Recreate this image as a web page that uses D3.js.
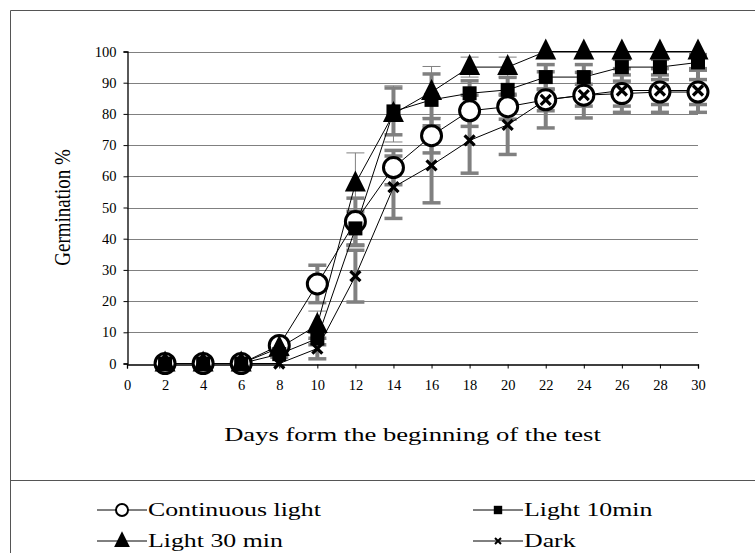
<!DOCTYPE html>
<html>
<head>
<meta charset="utf-8">
<script src="https://cdn.jsdelivr.net/npm/d3@7"></script>
<style>
  html, body { margin: 0; padding: 0; background: #fff; }
  svg { display: block; font-family: "Liberation Serif", "Times New Roman", serif; }
</style>
</head>
<body>
<svg id="chart" width="755" height="553"></svg>
<script>
// ---- data ----
const days = [2, 4, 6, 8, 10, 12, 14, 16, 18, 20, 22, 24, 26, 28, 30];
const continuousLight = [0, 0, 0, 5.8, 25.5, 45.5, 62.8, 73, 81, 82.3, 84.5, 86, 86.5, 87, 87];
const light10min      = [0, 0, 0, 3, 8, 43.3, 80.8, 84.5, 86.6, 87.7, 91.8, 91.8, 95, 95, 96.5];
const light30min      = [0, 0, 0, 5, 12.3, 57.7, 80, 87, 95, 95, 100, 100, 100, 100, 100];
const dark            = [0, 0, 0, 0, 4.8, 28, 56.5, 63.5, 71.5, 76.5, 84.5, 86, 87.5, 87.5, 87.5];
const continuousErr = [0, 0, 0, 1.5, 6, 7.5, 5.5, 5.5, 5, 4, 3.5, 3.5, 4, 4, 4];
const light10Err    = [0, 0, 0, 1, 2, 5.5, 7.5, 8.3, 4, 4, 4, 4, 2.5, 2.5, 2.5];
const light30Err    = [0, 0, 0, 1, 4.5, 9.8, 9, 8.2, 3.2, 3.2, 0, 0, 0, 0, 0];
const darkErr       = [0, 0, 0, 0, 3.3, 8.3, 10, 12, 10.5, 9.5, 9, 7.3, 7, 7, 7];
const xTicks = d3.range(0, 31, 2);
const yTicks = d3.range(0, 101, 10);
const seriesNames = ["Continuous light", "Light 10min", "Light 30 min", "Dark"];

const series = [
  { name: seriesNames[0], values: continuousLight, err: continuousErr, marker: "circle", thinErr: false },
  { name: seriesNames[1], values: light10min, err: light10Err, marker: "square", thinErr: false },
  { name: seriesNames[2], values: light30min, err: light30Err, marker: "triangle", thinErr: true },
  { name: seriesNames[3], values: dark, err: darkErr, marker: "cross", thinErr: false }
];

// ---- layout ----
const svg = d3.select("#chart");
const x = d3.scaleLinear().domain([0, 30]).range([127, 698]);
const y = d3.scaleLinear().domain([0, 100]).range([363.5, 51.5]);
const grey = "#808080";
const stretch = 1.36; // horizontal stretch of the source picture's text

// outer frame
svg.append("path")
  .attr("d", "M10.5,553 L10.5,10.5 L755,10.5")
  .attr("fill", "none").attr("stroke", "#555").attr("stroke-width", 1);
svg.append("line")
  .attr("x1", 10.5).attr("x2", 755).attr("y1", 480.5).attr("y2", 480.5)
  .attr("stroke", "#555").attr("stroke-width", 1);

// gridlines
svg.append("g").selectAll("line").data(yTicks.filter(d => d > 0)).join("line")
  .attr("x1", x(0)).attr("x2", x(30))
  .attr("y1", d => Math.round(y(d)) + 0.5).attr("y2", d => Math.round(y(d)) + 0.5)
  .attr("stroke", grey).attr("stroke-width", 1);

// axes
const yAxis = svg.append("g")
  .attr("transform", `translate(${x(0) + 0.5},0)`)
  .call(d3.axisLeft(y).tickValues(yTicks).tickSize(4).tickPadding(7));
const xAxis = svg.append("g")
  .attr("transform", `translate(0,${Math.round(y(0)) + 0.5})`)
  .call(d3.axisBottom(x).tickValues(xTicks).tickSize(4).tickPadding(11));
[yAxis, xAxis].forEach(g => {
  g.select(".domain").attr("stroke", "#000").attr("stroke-width", 1.3);
  g.selectAll(".tick line").attr("stroke", "#000");
  g.selectAll("text").attr("font-family", "Liberation Serif, serif").attr("font-size", 14.5).attr("fill", "#000");
});

// axis titles
svg.append("text")
  .attr("transform", `translate(70,${(y(0) + y(100)) / 2}) rotate(-90) scale(1,1.2)`)
  .attr("text-anchor", "middle").attr("font-size", 19).text("Germination %");
svg.append("text")
  .attr("transform", `translate(${(x(0) + x(30)) / 2},441) scale(${stretch + 0.04},1)`)
  .attr("text-anchor", "middle").attr("font-size", 19).text("Days form the beginning of the test");

// error bars
const errG = svg.append("g");
series.forEach(s => {
  days.forEach((d, i) => {
    const e = s.err[i];
    if (!e) return;
    const cx = x(d), v = s.values[i];
    const w = s.thinErr ? 1 : 4;
    const capW = 18;
    errG.append("line")
      .attr("x1", cx).attr("x2", cx).attr("y1", y(v - e)).attr("y2", y(v + e))
      .attr("stroke", grey).attr("stroke-width", w);
    [v - e, v + e].forEach(t => {
      errG.append("line")
        .attr("x1", cx - capW / 2).attr("x2", cx + capW / 2).attr("y1", y(t)).attr("y2", y(t))
        .attr("stroke", grey).attr("stroke-width", s.thinErr ? 1 : 3.5);
    });
  });
});

// marker drawing
function drawMarker(g, type, cx, cy, size) {
  if (type === "circle") {
    g.append("circle").attr("cx", cx).attr("cy", cy).attr("r", size)
      .attr("fill", "#fff").attr("stroke", "#000").attr("stroke-width", Math.max(2, size * 0.3));
  } else if (type === "square") {
    g.append("rect").attr("x", cx - size * 0.7).attr("y", cy - size * 0.7)
      .attr("width", size * 1.4).attr("height", size * 1.4).attr("fill", "#000");
  } else if (type === "triangle") {
    const h = size * 2.1, w = size * 2.1;
    g.append("path")
      .attr("d", `M${cx},${cy - h * 0.62} L${cx + w / 2},${cy + h * 0.38} L${cx - w / 2},${cy + h * 0.38} Z`)
      .attr("fill", "#000");
  } else if (type === "cross") {
    const a = size * 0.5;
    g.append("path")
      .attr("d", `M${cx - a},${cy - a} L${cx + a},${cy + a} M${cx + a},${cy - a} L${cx - a},${cy + a}`)
      .attr("stroke", "#000").attr("stroke-width", Math.max(2, size * 0.32)).attr("fill", "none");
  }
}

// lines + markers
const line = d3.line().x(d => x(d[0])).y(d => y(d[1]));
series.forEach(s => {
  svg.append("path")
    .datum(days.map((d, i) => [d, s.values[i]]))
    .attr("d", line).attr("fill", "none").attr("stroke", "#000").attr("stroke-width", 1);
});
const markG = svg.append("g");
series.forEach(s => {
  days.forEach((d, i) => drawMarker(markG, s.marker, x(d), y(s.values[i]), 10));
});

// legend
const legendPos = [[97, 510], [473, 510], [97, 541], [473, 541]];
const legendSize = { circle: 6, square: 6, triangle: 7.5, cross: 6 };
series.forEach((s, i) => {
  const [lx, ly] = legendPos[i];
  svg.append("line").attr("x1", lx).attr("x2", lx + 50).attr("y1", ly).attr("y2", ly)
    .attr("stroke", "#000").attr("stroke-width", 1);
  drawMarker(svg, s.marker, lx + 25, ly, legendSize[s.marker]);
  svg.append("text")
    .attr("transform", `translate(${lx + 51},${ly + 6}) scale(${stretch},1)`)
    .attr("font-size", 19).text(s.name);
});
</script>
</body>
</html>
